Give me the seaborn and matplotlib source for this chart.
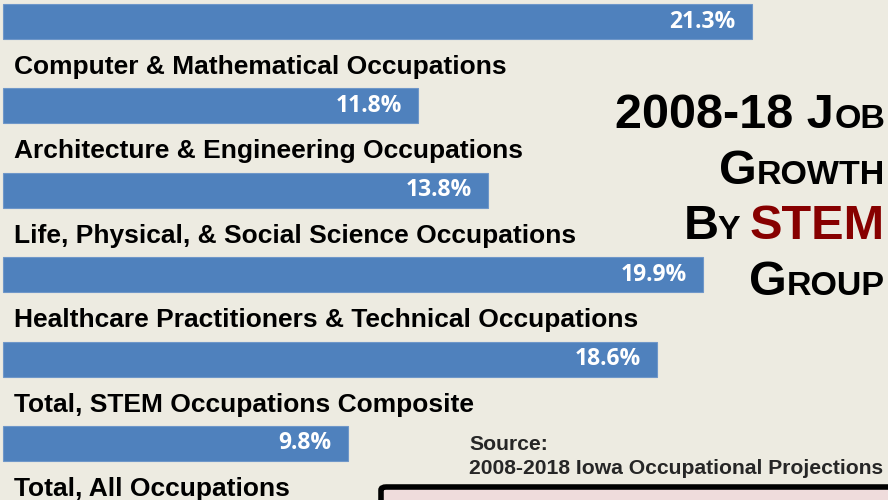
import matplotlib
matplotlib.use("Agg")
import matplotlib.pyplot as plt
import matplotlib.patches as mpatches
import seaborn as sns
import pandas as pd

# data
categories = [
    "Computer & Mathematical Occupations",
    "Architecture & Engineering Occupations",
    "Life, Physical, & Social Science Occupations",
    "Healthcare Practitioners & Technical Occupations",
    "Total, STEM Occupations Composite",
    "Total, All Occupations",
]
growth = [21.3, 11.8, 13.8, 19.9, 18.6, 9.8]
source_lines = ["Source:", "2008-2018 Iowa Occupational Projections"]

bg = "#EDEBE1"
bar_color = "#4F81BD"

sns.set_style("white")
plt.rcParams["font.family"] = ["Liberation Sans", "DejaVu Sans"]

fig = plt.figure(figsize=(8.88, 5), dpi=100, facecolor=bg)
ax = fig.add_axes([0, 0, 1, 1])
ax.set_facecolor(bg)

df = pd.DataFrame({"cat": categories, "val": growth})
sns.barplot(data=df, x="val", y="cat", orient="h", color=bar_color,
            saturation=1, width=0.415, edgecolor="#6F97C9", linewidth=0.8, ax=ax)

ax.set_xlim(-0.085, 25.17)
ax.set_ylim(5.67, -0.255)
ax.axis("off")

for i, (name, v) in enumerate(zip(categories, growth)):
    ax.text(v - 0.46, i, f"{v}%", ha="right", va="center", color="white",
            fontsize=16.5, fontweight="bold", family=["Open Sans", "DejaVu Sans"])
    ax.text(0.31, i + 0.54, name, ha="left", va="center", color="black",
            fontsize=19, fontweight="bold")

# title with small caps, built piece by piece from the right edge
renderer = fig.canvas.get_renderer()
big, small = 35, 24.5
title_lines = [
    (128, [("2008-18 J", big, "black"), ("OB", small, "black")]),
    (184, [("G", big, "black"), ("ROWTH", small, "black")]),
    (239, [("B", big, "black"), ("Y ", small, "black"), ("STEM", big, "#870000")]),
    (295, [("G", big, "black"), ("ROUP", small, "black")]),
]
right_px = 885
for base_px, pieces in title_lines:
    x_px = right_px
    for txt, size, col in reversed(pieces):
        t = fig.text(x_px / 888, 1 - base_px / 500, txt, ha="right", va="baseline",
                     fontsize=size, fontweight="bold", color=col)
        w = t.get_window_extent(renderer).width
        x_px -= w

fig.text(469 / 888, 1 - 444 / 500, source_lines[0], ha="left", va="center",
         fontsize=15.2, fontweight="bold")
fig.text(469 / 888, 1 - 469 / 500, source_lines[1], ha="left", va="center",
         fontsize=15.2, fontweight="bold")

box = mpatches.FancyBboxPatch((381 / 888, -30 / 500), 600 / 888, 43 / 500,
                              boxstyle="round,pad=0,rounding_size=0.006",
                              transform=fig.transFigure, facecolor="#EFDCDC",
                              edgecolor="black", linewidth=4)
fig.patches.append(box)

fig.savefig("out.png", dpi=100, facecolor=bg)
